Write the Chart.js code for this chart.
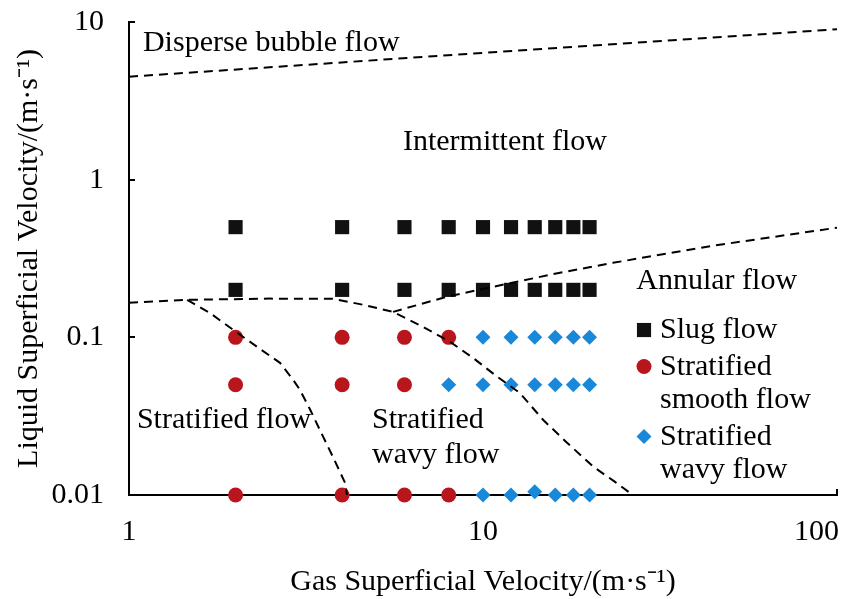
<!DOCTYPE html>
<html>
<head>
<meta charset="utf-8">
<script src="https://cdn.jsdelivr.net/npm/chart.js@4"></script>
<style>
  body { margin: 0; background: #fff; }
</style>
</head>
<body>
<canvas id="flowMap" width="861" height="599"></canvas>
<script>
// measured points (gas velocity, liquid velocity), m/s
const slugX = [2, 4, 6, 8, 10, 12, 14, 16, 18, 20, 2, 4, 6, 8, 10, 12, 14, 16, 18, 20];
const slugY = [0.5, 0.5, 0.5, 0.5, 0.5, 0.5, 0.5, 0.5, 0.5, 0.5, 0.2, 0.2, 0.2, 0.2, 0.2, 0.2, 0.2, 0.2, 0.2, 0.2];

const smoothX = [2, 4, 6, 8, 2, 4, 6, 2, 4, 6, 8];
const smoothY = [0.1, 0.1, 0.1, 0.1, 0.05, 0.05, 0.05, 0.01, 0.01, 0.01, 0.01];

const wavyX = [10, 12, 14, 16, 18, 20, 8, 10, 12, 14, 16, 18, 20, 10, 12, 14, 16, 18, 20];
const wavyY = [0.1, 0.1, 0.1, 0.1, 0.1, 0.1, 0.05, 0.05, 0.05, 0.05, 0.05, 0.05, 0.05, 0.01, 0.01, 0.0105, 0.01, 0.01, 0.01];

// transition boundaries
const disperseX = [1, 100];
const disperseY = [4.5, 9.0];

const topBoundX = [1, 1.46, 2.5, 3.77, 4.58, 5.57, 6.77, 8.07, 9.37, 10.8, 12.7, 14.8, 17.3, 20.5, 23.5, 26.5];
const topBoundY = [0.166, 0.173, 0.176, 0.1755, 0.161, 0.145, 0.1166, 0.0936, 0.0741, 0.0578, 0.0444, 0.0299, 0.0214, 0.0151, 0.0122, 0.01];

const stratX = [1.46, 1.69, 1.97, 2.3, 2.67, 2.91, 3.04, 3.25, 3.46, 3.77, 4.08, 4.13];
const stratY = [0.173, 0.143, 0.1116, 0.087, 0.0689, 0.0537, 0.0464, 0.0347, 0.0259, 0.0174, 0.0119, 0.01];

const annularX = [5.57, 7.91, 11.7, 16.5, 23.3, 44.6, 100];
const annularY = [0.145, 0.181, 0.2186, 0.257, 0.297, 0.381, 0.496];

const xTickValues = [1, 10, 100];
const yTickValues = [0.01, 0.1, 1, 10];

const legendLabels = [["Slug flow"], ["Stratified", "smooth flow"], ["Stratified", "wavy flow"]];

const regionLabels = [
  { lines: ["Disperse bubble flow"], x: 1.095, y: 6.5 },
  { lines: ["Intermittent flow"], x: 5.94, y: 1.55 },
  { lines: ["Annular flow"], x: 27.1, y: 0.203 },
  { lines: ["Stratified flow"], x: 1.053, y: 0.0266 },
  { lines: ["Stratified", "wavy flow"], x: 4.86, y: 0.0266 }
];

const FONT = '"Liberation Serif", "Times New Roman", serif';

function pts(xs, ys) {
  return xs.map((v, i) => ({ x: v, y: ys[i] }));
}

function boundary(xs, ys) {
  return {
    type: 'line',
    data: pts(xs, ys),
    borderColor: '#000',
    borderWidth: 2,
    borderDash: [9, 6],
    pointRadius: 0,
    fill: false,
    tension: 0,
    order: 0
  };
}

function drawMarker(ctx, style, color, r, x, y) {
  ctx.fillStyle = color;
  ctx.beginPath();
  if (style === 'rect') {
    const s = r * Math.SQRT1_2;
    ctx.rect(x - s, y - s, 2 * s, 2 * s);
  } else if (style === 'rectRot') {
    ctx.moveTo(x, y - r);
    ctx.lineTo(x + r, y);
    ctx.lineTo(x, y + r);
    ctx.lineTo(x - r, y);
    ctx.closePath();
  } else {
    ctx.arc(x, y, r, 0, Math.PI * 2);
  }
  ctx.fill();
}

const overlay = {
  id: 'overlay',
  beforeDraw(chart) {
    // last x label sits inside the canvas, right-aligned to the axis end
    const xs = chart.scales.x;
    const items = xs.getLabelItems(chart.chartArea);
    const last = items[items.length - 1];
    if (last) {
      last.options.textAlign = 'right';
      last.options.translation[0] = xs.right + 2;
    }
  },
  afterDatasetsDraw(chart) {
    const { ctx } = chart;
    const xs = chart.scales.x, ys = chart.scales.y;
    ctx.save();
    ctx.font = '30px ' + FONT;
    ctx.fillStyle = '#000';
    ctx.textBaseline = 'alphabetic';
    ctx.textAlign = 'left';
    regionLabels.forEach(l => {
      const px = xs.getPixelForValue(l.x);
      const py = ys.getPixelForValue(l.y);
      l.lines.forEach((t, i) => ctx.fillText(t, px, py + i * 35));
    });

    // legend, drawn from the point datasets
    let bx = xs.getPixelForValue(28.5);
    let by = ys.getPixelForValue(0.099);
    chart.data.datasets.filter(d => d.legendIndex !== undefined).forEach(d => {
      const lines = legendLabels[d.legendIndex];
      drawMarker(ctx, d.pointStyle, d.backgroundColor, d.pointRadius, bx, by - 8);
      ctx.fillStyle = '#000';
      lines.forEach((t, i) => ctx.fillText(t, bx + 16, by + i * 33.5));
      by += lines.length * 33.5 + 3;
    });
    ctx.restore();
  }
};

function axisCommon(ticks, label, fit) {
  return {
    type: 'logarithmic',
    min: ticks[0],
    max: ticks[ticks.length - 1],
    afterBuildTicks: s => { s.ticks = ticks.map(v => ({ value: v })); },
    afterFit: s => {
      fit(s);
      s.paddingTop = 0; s.paddingBottom = 0; s.paddingLeft = 0; s.paddingRight = 0;
    },
    grid: { drawOnChartArea: false, drawTicks: true, tickLength: -6, color: '#000', lineWidth: 2 },
    border: { display: true, color: '#000', width: 2 },
    ticks: {
      autoSkip: false,
      maxRotation: 0,
      color: '#000',
      font: { family: FONT, size: 30 },
      callback: v => String(v)
    },
    title: { display: true, text: label, color: '#000', font: { family: FONT, size: 30, lineHeight: 1 } }
  };
}

const xAxis = axisCommon(xTickValues, 'Gas Superficial Velocity/(m\u00B7s\u207B\u00B9)', s => { s.height = 104; });
xAxis.position = 'bottom';
xAxis.ticks.padding = 25;
xAxis.title.padding = { top: 0, bottom: 2 };

const yAxis = axisCommon(yTickValues, 'Liquid Superficial Velocity/(m\u00B7s\u207B\u00B9)', s => { s.width = 129; });
yAxis.position = 'left';
yAxis.ticks.padding = 31;
yAxis.title.padding = { top: 14, bottom: 0 };

new Chart('flowMap', {
  type: 'scatter',
  data: {
    datasets: [
      { label: 'Slug flow', legendIndex: 0, data: pts(slugX, slugY), pointStyle: 'rect', pointRadius: 10, backgroundColor: '#111', borderWidth: 0, clip: false, order: 1 },
      { label: 'Stratified smooth flow', legendIndex: 1, data: pts(smoothX, smoothY), pointStyle: 'circle', pointRadius: 7.5, backgroundColor: '#b8161c', borderWidth: 0, clip: false, order: 1 },
      { label: 'Stratified wavy flow', legendIndex: 2, data: pts(wavyX, wavyY), pointStyle: 'rectRot', pointRadius: 7.5, backgroundColor: '#1a88d8', borderWidth: 0, clip: false, order: 1 },
      boundary(disperseX, disperseY),
      boundary(topBoundX, topBoundY),
      boundary(stratX, stratY),
      boundary(annularX, annularY)
    ]
  },
  options: {
    responsive: false,
    animation: false,
    devicePixelRatio: 1,
    layout: { padding: { top: 22, right: 24, bottom: 0, left: 0 } },
    plugins: { legend: { display: false }, tooltip: { enabled: false } },
    scales: { x: xAxis, y: yAxis }
  },
  plugins: [overlay]
});
</script>
</body>
</html>
